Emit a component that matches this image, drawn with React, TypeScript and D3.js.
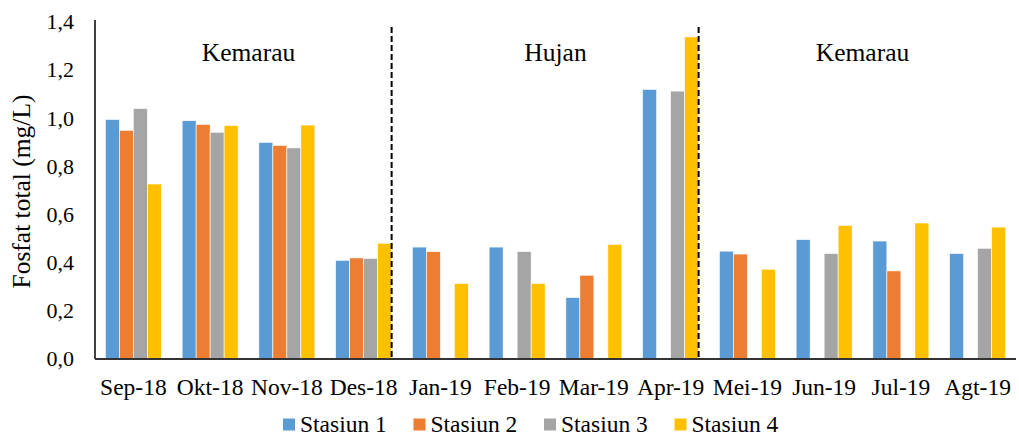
import React from "react";
import * as d3 from "d3";

const categories = ["Sep-18", "Okt-18", "Nov-18", "Des-18", "Jan-19", "Feb-19", "Mar-19", "Apr-19", "Mei-19", "Jun-19", "Jul-19", "Agt-19"];
const seriesNames = ["Stasiun 1", "Stasiun 2", "Stasiun 3", "Stasiun 4"];
const stasiun1 = [0.995, 0.99, 0.9, 0.41, 0.465, 0.465, 0.255, 1.12, 0.448, 0.496, 0.49, 0.438];
const stasiun2 = [0.95, 0.975, 0.887, 0.42, 0.446, 0, 0.348, 0, 0.436, 0, 0.366, 0];
const stasiun3 = [1.04, 0.942, 0.877, 0.418, 0, 0.446, 0, 1.113, 0, 0.438, 0, 0.46];
const stasiun4 = [0.727, 0.97, 0.972, 0.481, 0.314, 0.314, 0.476, 1.338, 0.373, 0.555, 0.565, 0.548];
const yTicks = [0, 0.2, 0.4, 0.6, 0.8, 1.0, 1.2, 1.4];
const seasons = [
  { label: "Kemarau", from: 0, to: 3 },
  { label: "Hujan", from: 4, to: 7 },
  { label: "Kemarau", from: 8, to: 11 },
];
const colors = ["#5B9BD5", "#ED7D31", "#A5A5A5", "#FFC000"];

const W = 1019;
const H = 436;
const left = 95;
const right = 1016;
const top = 22;
const bottom = 359;
const serif = { fontFamily: "'Liberation Serif', 'Times New Roman', serif" };

export default function App() {
  const values = [stasiun1, stasiun2, stasiun3, stasiun4];
  const x = d3.scaleBand<string>().domain(categories).range([left, right]).paddingInner(0).paddingOuter(0);
  const barW = 14;
  const y = d3.scaleLinear().domain([0, 1.4]).range([bottom, top]);
  const fmt = (v: number) => v.toFixed(1).replace(".", ",");
  const center = (c: string) => (x(c) as number) + x.bandwidth() / 2;
  // season divider sits at the right edge of the last bar in the group
  const dividers = [3, 7].map((i) => center(categories[i]) + 2 * barW);

  return (
    <svg width={W} height={H} style={{ position: "absolute", left: 0, top: 0, background: "#fff" }}>
      <g fill="#000">
        {yTicks.map((t) => (
          <text key={t} x={74} y={y(t) + 7.3} textAnchor="end" fontSize={22} style={serif}>
            {fmt(t)}
          </text>
        ))}
        <text
          transform={`translate(30,${(top + bottom) / 2 + 1}) rotate(-90)`}
          textAnchor="middle"
          fontSize={25.5}
          style={serif}
        >
          Fosfat total (mg/L)
        </text>
      </g>
      {values.map((vals, si) => (
        <g key={si} fill={colors[si]}>
          {categories.map((c, ci) =>
            vals[ci] > 0 ? (
              <rect
                key={c}
                x={center(c) - 2 * barW + si * barW}
                y={y(vals[ci])}
                width={barW}
                height={y(0) - y(vals[ci])}
                stroke="#fff"
                strokeWidth={0.6}
              />
            ) : null
          )}
        </g>
      ))}
      {dividers.map((dx, i) => (
        <line key={i} x1={dx} x2={dx} y1={27} y2={bottom} stroke="#000" strokeWidth={2} strokeDasharray="6,3" />
      ))}
      <line x1={left} x2={left} y1={20} y2={bottom} stroke="#000" strokeWidth={1.5} />
      <line x1={left} x2={right} y1={bottom} y2={bottom} stroke="#333" strokeWidth={2} />
      <g fill="#000" textAnchor="middle">
        {categories.map((c) => (
          <text key={c} x={center(c)} y={395} fontSize={23.5} style={serif}>
            {c}
          </text>
        ))}
        {seasons.map((s, i) => {
          const cx = (center(categories[s.from]) + center(categories[s.to])) / 2;
          return (
            <text key={i} x={cx} y={60.5} fontSize={25.5} style={serif}>
              {s.label}
            </text>
          );
        })}
      </g>
      <g>
        {seriesNames.map((n, i) => (
          <g key={n} transform={`translate(${283 + i * 130.5},418.5)`}>
            <rect x={0} y={0} width={12} height={12} fill={colors[i]} />
            <text x={17} y={13} fill="#000" fontSize={23.5} style={serif}>
              {n}
            </text>
          </g>
        ))}
      </g>
    </svg>
  );
}
